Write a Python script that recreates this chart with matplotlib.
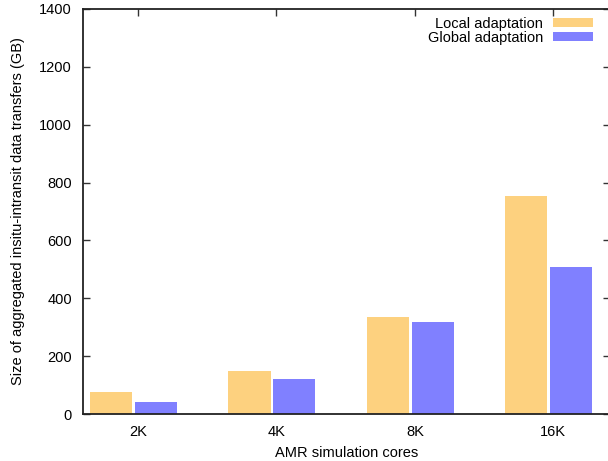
import matplotlib.pyplot as plt
import numpy as np

# datos
cores = ["2K", "4K", "8K", "16K"]
local_adapt = [76, 149, 335, 755]
global_adapt = [41, 121, 318, 508]

plt.rcParams['font.family'] = ['Liberation Sans', 'DejaVu Sans']
plt.rcParams['font.size'] = 10.5

fig = plt.figure(figsize=(6.08, 4.61), dpi=100)
ax = fig.add_axes([83 / 608, 47 / 461, 527 / 608, 405 / 461])

x = np.arange(len(cores))
w = 0.305
ax.bar(x - 0.195, local_adapt, w, color='#fdd17f', label='Local adaptation', zorder=1)
ax.bar(x + 0.13, global_adapt, w, color='#8080ff', label='Global adaptation', zorder=1)

ax.set_xlim(-0.397, 3.41)
ax.set_ylim(0, 1400)
ax.set_yticks(np.arange(0, 1401, 200))
ax.set_xticks(x)
ax.set_xticklabels(cores)

for s in ax.spines.values():
    s.set_linewidth(1.3)
    s.set_color('#222222')
    s.set_zorder(3)

ax.tick_params(axis='y', direction='in', left=True, right=True, length=5, width=1, color='#333333', pad=8)
ax.tick_params(axis='x', direction='in', bottom=False, top=True, length=5, width=1, color='#333333', pad=8)

ax.set_xlabel('AMR simulation cores', labelpad=5)
ax.set_ylabel('Size of aggregated insitu-intransit data transfers (GB)', labelpad=10)

ax.legend(loc='upper right', bbox_to_anchor=(0.968, 0.981), frameon=False, markerfirst=False,
          handlelength=2.74, handleheight=0.55, labelspacing=0.0, handletextpad=0.68,
          borderpad=0.0, borderaxespad=0.0)

plt.savefig('out.png', dpi=100)
